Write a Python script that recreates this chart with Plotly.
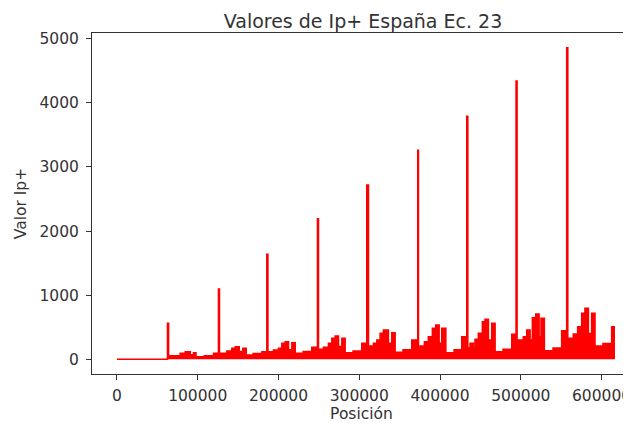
import plotly.graph_objects as go

# Tall spikes (position, value)
spike_pos = [62600, 125700, 185600, 248300, 309400, 372500, 433200, 494200, 556900]
spike_val = [560, 1095, 1640, 2190, 2720, 3260, 3790, 4340, 4860]

# Low band / small blocks between spikes (step starts, value held until next point)
band_pos = [0,
            63900, 78300, 84500, 90700, 94800, 97800, 108000, 119600,
            126900, 136100, 142300, 146400, 151400, 155900, 160000, 168700, 179500,
            186900, 193800, 200000, 204200, 208300, 212400, 216600, 220700, 230600, 241300,
            249500, 255700, 261900, 266100, 270200, 274300, 278500, 282500, 292400, 303200,
            311400, 317600, 321800, 325900, 330000, 336100, 340300, 344400, 354300, 365100,
            373300, 375400, 379500, 380700, 385600, 390600, 394800, 398900, 402200, 407200, 417500, 427000,
            434400, 437300, 441300, 443400, 447500, 452500, 455800, 459900, 464100, 468200, 478100, 488900,
            495400, 497000, 501200, 503200, 507400, 511500, 514400, 518600, 522700, 525100, 529200, 540000, 550700,
            558200, 558900, 563100, 565100, 570500, 574600, 575500, 579500, 583700, 587800, 591900, 601800, 612600, 616700]
band_val = [0,
            56, 94, 119, 70, 103, 40, 55, 94,
            94, 130, 171, 197, 120, 171, 67, 90, 119,
            119, 145, 171, 250, 275, 150, 259, 94, 120, 187,
            156, 187, 250, 328, 363, 200, 328, 103, 130, 250,
            207, 250, 301, 405, 457, 250, 415, 110, 150, 301,
            150, 207, 150, 275, 353, 484, 535, 250, 484, 103, 150, 353,
            180, 250, 180, 312, 405, 587, 624, 300, 562, 119, 155, 390,
            200, 301, 200, 353, 457, 300, 649, 707, 350, 640, 134, 175, 446,
            250, 328, 250, 395, 509, 350, 718, 796, 400, 718, 207, 245, 509, 509]

x_ticks = [0, 100000, 200000, 300000, 400000, 500000, 600000]
y_ticks = [0, 1000, 2000, 3000, 4000, 5000]

pts = sorted(list(zip(spike_pos, spike_val)) + list(zip(band_pos, band_val)))
xs = [p[0] for p in pts]
ys = [p[1] for p in pts]

fig = go.Figure()
fig.add_trace(go.Scatter(
    x=xs, y=ys, mode="lines", line=dict(color="#ff0000", width=1.6, shape="hv"),
    fill="tozeroy", fillcolor="#ff0000", hoverinfo="skip", showlegend=False))

# the page body adds an 8px offset; the figure is sized to fill the rest
OFF = 8
W, H = 631 - OFF, 425 - OFF
font_fam = "DejaVu Sans"
txt = "#333333"
fig.update_layout(
    width=W, height=H,
    margin=dict(l=92 - OFF, r=0, t=33 - OFF, b=H - (374 - OFF)),
    paper_bgcolor="white", plot_bgcolor="white",
    font=dict(family=font_fam, color=txt, size=15.5),
    title=dict(text="Valores de Ip+ España Ec. 23", font=dict(size=19, color=txt),
               x=(363 - OFF) / W, xref="container", xanchor="center",
               y=1 - (21 - OFF) / H, yref="container", yanchor="middle"),
    xaxis=dict(range=[-30900, 636500], tickvals=x_ticks, ticktext=[str(v) for v in x_ticks],
               ticks="outside", ticklen=5, tickcolor=txt, showline=True, linecolor=txt,
               linewidth=1, mirror=True, showgrid=False, zeroline=False,
               ticklabeloverflow="allow", ticklabelstandoff=2,
               tickfont=dict(size=15.5, color=txt),
               title=dict(text="Posición", font=dict(size=15.5, color=txt), standoff=2)),
    yaxis=dict(range=[-229, 5090], tickvals=y_ticks, ticktext=[str(v) for v in y_ticks],
               ticks="outside", ticklen=5, tickcolor=txt, showline=True, linecolor=txt,
               linewidth=1, showgrid=False, zeroline=False, ticklabelstandoff=4,
               tickfont=dict(size=15.5, color=txt),
               title=dict(text="Valor Ip+", font=dict(size=15.5, color=txt), standoff=9)),
)

fig.write_html("out.html", config={"displayModeBar": False})
